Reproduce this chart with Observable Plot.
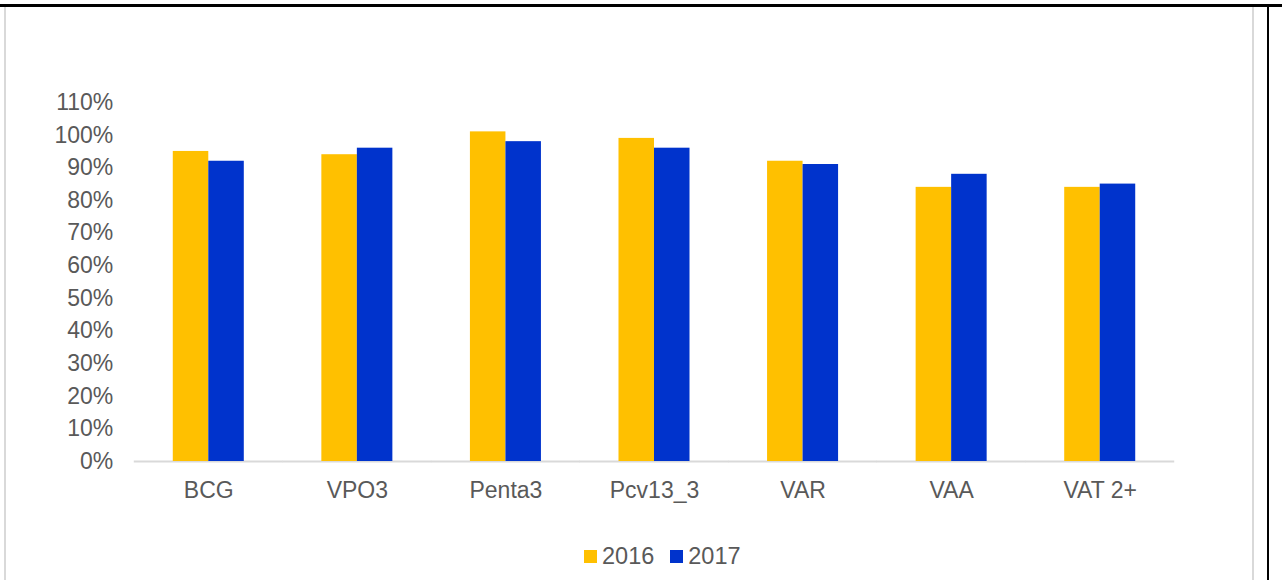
<!DOCTYPE html>
<html>
<head>
<meta charset="utf-8">
<script src="https://cdn.jsdelivr.net/npm/d3@7"></script>
<script src="https://cdn.jsdelivr.net/npm/@observablehq/plot@0.6"></script>
<style>
  html, body { margin: 0; padding: 0; background: #fff; }
  #frame { position: relative; width: 1282px; height: 580px; overflow: hidden; font-family: "Liberation Sans", Arial, sans-serif; }
  .ln { position: absolute; }
  #chart { position: absolute; left: 0; top: 0; }
  #legend { position: absolute; top: 543px; left: 584px; display: flex; align-items: center; font-size: 23.5px; color: #595959; white-space: nowrap; }
  #legend .item { display: flex; align-items: center; margin-right: 16px; }
  #legend .sw { width: 13px; height: 13px; margin-right: 5px; }
</style>
</head>
<body>
<div id="frame">
  <div class="ln" style="left:0;top:4px;width:1282px;height:3px;background:#000"></div>
  <div class="ln" style="left:4px;top:7px;width:2px;height:573px;background:#d9d9d9"></div>
  <div class="ln" style="left:1252px;top:7px;width:2px;height:573px;background:#d9d9d9"></div>
  <div class="ln" style="left:1267px;top:7px;width:2px;height:573px;background:#000"></div>
  <div id="chart"></div>
  <div id="legend"></div>
</div>
<script>
const categories = ["BCG", "VPO3", "Penta3", "Pcv13_3", "VAR", "VAA", "VAT 2+"];
const series = ["2016", "2017"];
const values2016 = [0.95, 0.94, 1.01, 0.99, 0.92, 0.84, 0.84];
const values2017 = [0.92, 0.96, 0.98, 0.96, 0.91, 0.88, 0.85];
const yTicks = [0, 0.1, 0.2, 0.3, 0.4, 0.5, 0.6, 0.7, 0.8, 0.9, 1.0, 1.1];
const colors = ["#FFC000", "#0033CC"];

const data = [];
categories.forEach((c, i) => {
  data.push({cat: c, year: series[0], value: values2016[i]});
  data.push({cat: c, year: series[1], value: values2017[i]});
});

const plot = Plot.plot({
  width: 1282,
  height: 530,
  marginLeft: 134,
  marginRight: 108,
  marginTop: 102,
  marginBottom: 69,
  style: {fontFamily: "Liberation Sans, Arial, sans-serif", fontSize: "23px", color: "#595959", background: "transparent", overflow: "visible"},
  fx: {domain: categories, paddingInner: 0.522, paddingOuter: 0.261, round: false, axis: "bottom", label: null, tickSize: 0, tickPadding: 20},
  x: {domain: series, padding: 0, round: false, axis: null},
  y: {domain: [0, 1.1], ticks: yTicks, tickFormat: d => Math.round(d * 100) + "%", tickSize: 0, tickPadding: 60, label: null},
  color: {domain: series, range: colors},
  marks: [
    Plot.ruleY([0], {stroke: "#d9d9d9", strokeWidth: 2, insetLeft: -39, insetRight: -39}),
    Plot.barY(data, {fx: "cat", x: "year", y: "value", fill: "year", insetLeft: 0, insetRight: 0})
  ]
});
document.getElementById("chart").appendChild(plot);

const legend = document.getElementById("legend");
series.forEach((s, i) => {
  const item = document.createElement("div");
  item.className = "item";
  const sw = document.createElement("span");
  sw.className = "sw";
  sw.style.background = colors[i];
  const t = document.createElement("span");
  t.textContent = s;
  item.appendChild(sw);
  item.appendChild(t);
  legend.appendChild(item);
});
</script>
</body>
</html>
